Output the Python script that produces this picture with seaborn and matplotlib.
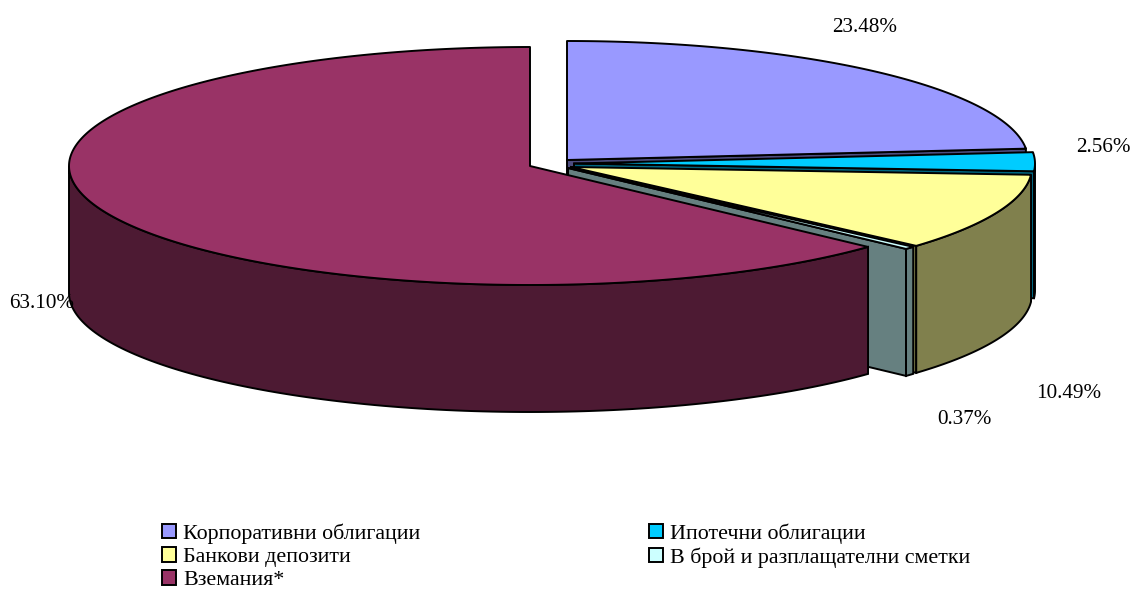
import numpy as np
import matplotlib
matplotlib.use("Agg")
import matplotlib.pyplot as plt
from matplotlib.patches import Patch, Polygon
import seaborn as sns

categories = ["Корпоративни облигации", "Ипотечни облигации", "Банкови депозити",
              "В брой и разплащателни сметки", "Вземания*"]
values = [23.48, 2.56, 10.49, 0.37, 63.10]
value_labels = ["23.48%", "2.56%", "10.49%", "0.37%", "63.10%"]

# styles / layout
colors = sns.color_palette(["#9999FF", "#00CCFF", "#FFFF99", "#CCFFFF", "#993366"])
sides = [tuple(c * 0.5 for c in col) for col in colors]
centers = [(567, 160), (574, 163.5), (571, 167), (568, 168), (530, 166)]
label_xy = [(865, 27), (1103, 148), (1069, 393), (964, 419), (42, 303)]
RX, RY, DEPTH = 461, 119, 127

sns.set_theme(style="white")
plt.rcParams["font.family"] = ["Liberation Serif", "DejaVu Serif"]

fig = plt.figure(figsize=(11.31, 5.90), dpi=100)
ax = fig.add_axes([0, 0, 1, 1])
ax.set_xlim(0, 1131)
ax.set_ylim(590, 0)
ax.axis("off")


def rim(c, t):
    t = np.radians(t)
    return np.column_stack([c[0] + RX * np.sin(t), c[1] - RY * np.cos(t)])


edges = np.concatenate([[0], np.cumsum(values)]) / sum(values) * 360
lw = 1.4
for i, v in enumerate(values):
    c, a, b = centers[i], edges[i], edges[i + 1]
    drop = np.array([0, DEPTH])
    # radial face at the end angle (faces the viewer for the right-hand slices)
    if b < 180:
        e = rim(c, [b])[0]
        face = np.array([c, e, e + drop, np.array(c) + drop])
        ax.add_patch(Polygon(face, closed=True, fc=sides[i], ec="black", lw=lw, zorder=i * 3 + 1))
    # outer wall, front half only
    lo, hi = max(a, 90), min(b, 270)
    if hi > lo:
        pts = rim(c, np.linspace(lo, hi, 120))
        ax.add_patch(Polygon(np.vstack([pts, (pts + drop)[::-1]]), closed=True,
                             fc=sides[i], ec="black", lw=lw, zorder=i * 3 + 2))
    # top
    pts = rim(c, np.linspace(a, b, 300))
    ax.add_patch(Polygon(np.vstack([[c], pts]), closed=True, fc=colors[i], ec="black",
                         lw=lw, joinstyle="round", zorder=i * 3 + 3))

for (x, y), s in zip(label_xy, value_labels):
    ax.text(x, y, s, ha="center", va="center", fontsize=15.2, color="black", zorder=30)

order = [0, 2, 4, 1, 3]
handles = [Patch(fc=colors[i], ec="black", lw=1.4, label=categories[i]) for i in order]
ax.legend(handles=handles, ncols=2, loc="upper left", bbox_to_anchor=(162 / 1131, 1 - 523 / 590),
          bbox_transform=fig.transFigure, frameon=False, fontsize=15.8, labelcolor="black",
          handlelength=0.64, handleheight=0.64, handletextpad=0.32, labelspacing=0.16,
          columnspacing=10.4, borderpad=0, borderaxespad=0)

fig.savefig("out.png", dpi=100)
